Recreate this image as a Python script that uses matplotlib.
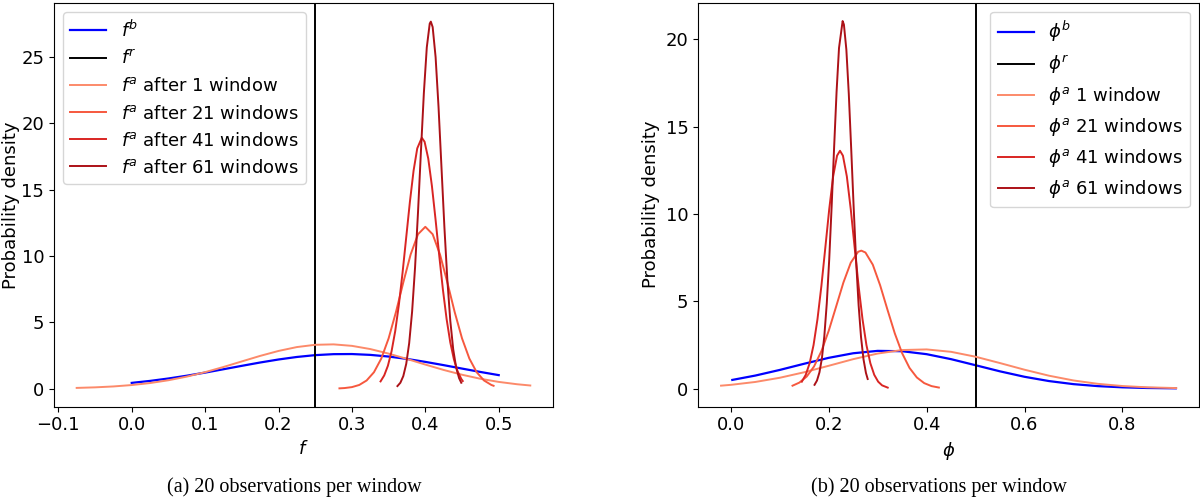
import matplotlib
matplotlib.use("Agg")
import matplotlib.pyplot as plt

# ---- left panel: f ----
f_ref = 0.25

fb_x = [0.000, 0.025, 0.050, 0.075, 0.100, 0.125, 0.150, 0.175, 0.200, 0.225, 0.250,
        0.275, 0.300, 0.325, 0.350, 0.375, 0.400, 0.425, 0.450, 0.475, 0.500]
fb_y = [0.433, 0.582, 0.763, 0.973, 1.207, 1.460, 1.717, 1.968, 2.195, 2.385, 2.523,
        2.597, 2.605, 2.542, 2.417, 2.237, 2.015, 1.769, 1.510, 1.256, 1.017]

fa1_x = [-0.075, -0.050, -0.025, 0.000, 0.025, 0.050, 0.075, 0.100, 0.125, 0.150, 0.175,
         0.200, 0.225, 0.250, 0.275, 0.300, 0.325, 0.350, 0.375, 0.400, 0.425, 0.450,
         0.475, 0.500, 0.525, 0.543]
fa1_y = [0.054, 0.096, 0.164, 0.269, 0.421, 0.631, 0.905, 1.241, 1.630, 2.050, 2.466,
         2.839, 3.131, 3.302, 3.334, 3.222, 2.981, 2.638, 2.236, 1.812, 1.407, 1.046,
         0.743, 0.506, 0.330, 0.236]

fa21_x = [0.283, 0.290, 0.300, 0.310, 0.320, 0.330, 0.340, 0.350, 0.360, 0.370, 0.380,
          0.390, 0.400, 0.410, 0.420, 0.430, 0.440, 0.450, 0.460, 0.470, 0.480, 0.490, 0.493]
fa21_y = [0.020, 0.043, 0.114, 0.276, 0.612, 1.233, 2.265, 3.787, 5.770, 8.004, 10.11,
          11.63, 12.19, 11.63, 10.11, 8.004, 5.770, 3.787, 2.265, 1.233, 0.612, 0.276, 0.214]

fa41_x = [0.339, 0.344, 0.349, 0.354, 0.359, 0.364, 0.369, 0.374, 0.379, 0.384, 0.389,
          0.3952, 0.399, 0.404, 0.409, 0.414, 0.419, 0.424, 0.429, 0.434, 0.439, 0.444,
          0.449, 0.451]
fa41_y = [0.544, 0.994, 1.720, 2.810, 4.338, 6.336, 8.743, 11.41, 14.08, 16.42, 18.10,
          18.90, 18.60, 17.33, 15.26, 12.71, 10.00, 7.445, 5.239, 3.485, 2.191, 1.302,
          0.732, 0.573]

fa61_x = [0.362, 0.366, 0.370, 0.374, 0.378, 0.382, 0.386, 0.390, 0.394, 0.398, 0.402,
          0.406, 0.4075, 0.410, 0.414, 0.418, 0.422, 0.426, 0.430, 0.434, 0.438, 0.442,
          0.446, 0.449]
fa61_y = [0.192, 0.442, 0.944, 1.867, 3.420, 5.804, 9.114, 13.25, 17.85, 22.26, 25.71,
          27.50, 27.65, 27.24, 24.98, 21.22, 16.69, 12.16, 8.201, 5.124, 2.961, 1.587,
          0.788, 0.442]

# ---- right panel: phi ----
phi_ref = 0.5

pb_x = [0.003, 0.05, 0.10, 0.15, 0.20, 0.25, 0.30, 0.35, 0.40, 0.45, 0.50, 0.55, 0.60,
        0.65, 0.70, 0.75, 0.80, 0.85, 0.909]
pb_y = [0.495, 0.744, 1.067, 1.422, 1.760, 2.022, 2.159, 2.139, 1.969, 1.683, 1.336, 0.985,
        0.674, 0.429, 0.253, 0.139, 0.071, 0.033, 0.013]

pa1_x = [-0.02, 0.00, 0.05, 0.10, 0.15, 0.20, 0.25, 0.30, 0.35, 0.40, 0.45, 0.50, 0.55,
         0.60, 0.65, 0.70, 0.75, 0.80, 0.85, 0.91]
pa1_y = [0.166, 0.213, 0.378, 0.618, 0.935, 1.305, 1.684, 2.006, 2.207, 2.242, 2.104, 1.823,
         1.459, 1.079, 0.736, 0.464, 0.270, 0.145, 0.072, 0.028]

pa21_x = [0.126, 0.140, 0.155, 0.170, 0.185, 0.200, 0.215, 0.230, 0.245, 0.260, 0.2666,
          0.275, 0.290, 0.305, 0.320, 0.335, 0.350, 0.365, 0.380, 0.395, 0.410, 0.425]
pa21_y = [0.164, 0.341, 0.687, 1.267, 2.140, 3.311, 4.687, 6.075, 7.209, 7.833, 7.900,
          7.792, 7.096, 5.916, 4.516, 3.157, 2.020, 1.183, 0.635, 0.312, 0.140, 0.058]

pa41_x = [0.145, 0.153, 0.161, 0.169, 0.177, 0.185, 0.193, 0.201, 0.209, 0.217, 0.223,
          0.229, 0.237, 0.245, 0.253, 0.261, 0.269, 0.277, 0.285, 0.293, 0.301, 0.309, 0.3205]
pa41_y = [0.394, 0.785, 1.452, 2.494, 3.973, 5.874, 8.063, 10.27, 12.15, 13.34, 13.62,
          13.34, 12.15, 10.27, 8.063, 5.874, 3.973, 2.494, 1.452, 0.785, 0.394, 0.183, 0.054]

pa61_x = [0.171, 0.176, 0.181, 0.186, 0.191, 0.196, 0.201, 0.206, 0.211, 0.216, 0.221,
          0.2284, 0.231, 0.236, 0.241, 0.246, 0.251, 0.256, 0.261, 0.266, 0.271, 0.276, 0.2796]
pa61_y = [0.214, 0.460, 0.922, 1.722, 3.001, 4.879, 7.399, 10.47, 13.81, 16.99, 19.51,
          21.05, 20.85, 19.42, 16.87, 13.67, 10.34, 7.287, 4.793, 2.941, 1.682, 0.897, 0.547]

windows = [1, 21, 41, 61]
reds = [plt.cm.Reds(v) for v in (0.40, 0.55, 0.70, 0.85)]

plt.rcParams["font.size"] = 13

fig = plt.figure(figsize=(12, 4.97), dpi=100)
ax1 = fig.add_axes([0.045, 0.1817, 0.4158, 0.8117])
ax2 = fig.add_axes([0.5819, 0.1817, 0.4173, 0.8129])

# left panel
ax1.plot(fb_x, fb_y, color="blue", lw=1.6, label=r"$f^b$")
ax1.axvline(f_ref, color="black", lw=1.4, label=r"$f^r$")
left_curves = [(fa1_x, fa1_y), (fa21_x, fa21_y), (fa41_x, fa41_y), (fa61_x, fa61_y)]
for (x, y), n, c in zip(left_curves, windows, reds):
    label = r"$f^a$ after %d window%s" % (n, "" if n == 1 else "s")
    ax1.plot(x, y, color=c, lw=1.4, label=label)
ax1.set_xlabel(r"$f$")
ax1.set_ylabel("Probability density")
# keep the label inside the figure, as in the reference
ax1.yaxis.set_label_coords(-0.069, 0.5)
ax1.set_yticks([0, 5, 10, 15, 20, 25])
ax1.legend(loc="upper left")

# right panel
ax2.plot(pb_x, pb_y, color="blue", lw=1.6, label=r"$\phi^b$")
ax2.axvline(phi_ref, color="black", lw=1.4, label=r"$\phi^r$")
right_curves = [(pa1_x, pa1_y), (pa21_x, pa21_y), (pa41_x, pa41_y), (pa61_x, pa61_y)]
for (x, y), n, c in zip(right_curves, windows, reds):
    label = r"$\phi^a$ %d window%s" % (n, "" if n == 1 else "s")
    ax2.plot(x, y, color=c, lw=1.4, label=label)
ax2.set_xlabel(r"$\phi$")
ax2.set_ylabel("Probability density")
ax2.set_xticks([0.0, 0.2, 0.4, 0.6, 0.8])
ax2.set_yticks([0, 5, 10, 15, 20])
ax2.legend(loc="upper right")

# captions under each panel
fig.text(294 / 1200, 1 - 486.7 / 497, "(a) 20 observations per window",
         ha="center", va="center", family="Liberation Serif", fontsize=14.5)
fig.text(939 / 1200, 1 - 486.7 / 497, "(b) 20 observations per window",
         ha="center", va="center", family="Liberation Serif", fontsize=14.5)

fig.savefig("out.png", dpi=100)
